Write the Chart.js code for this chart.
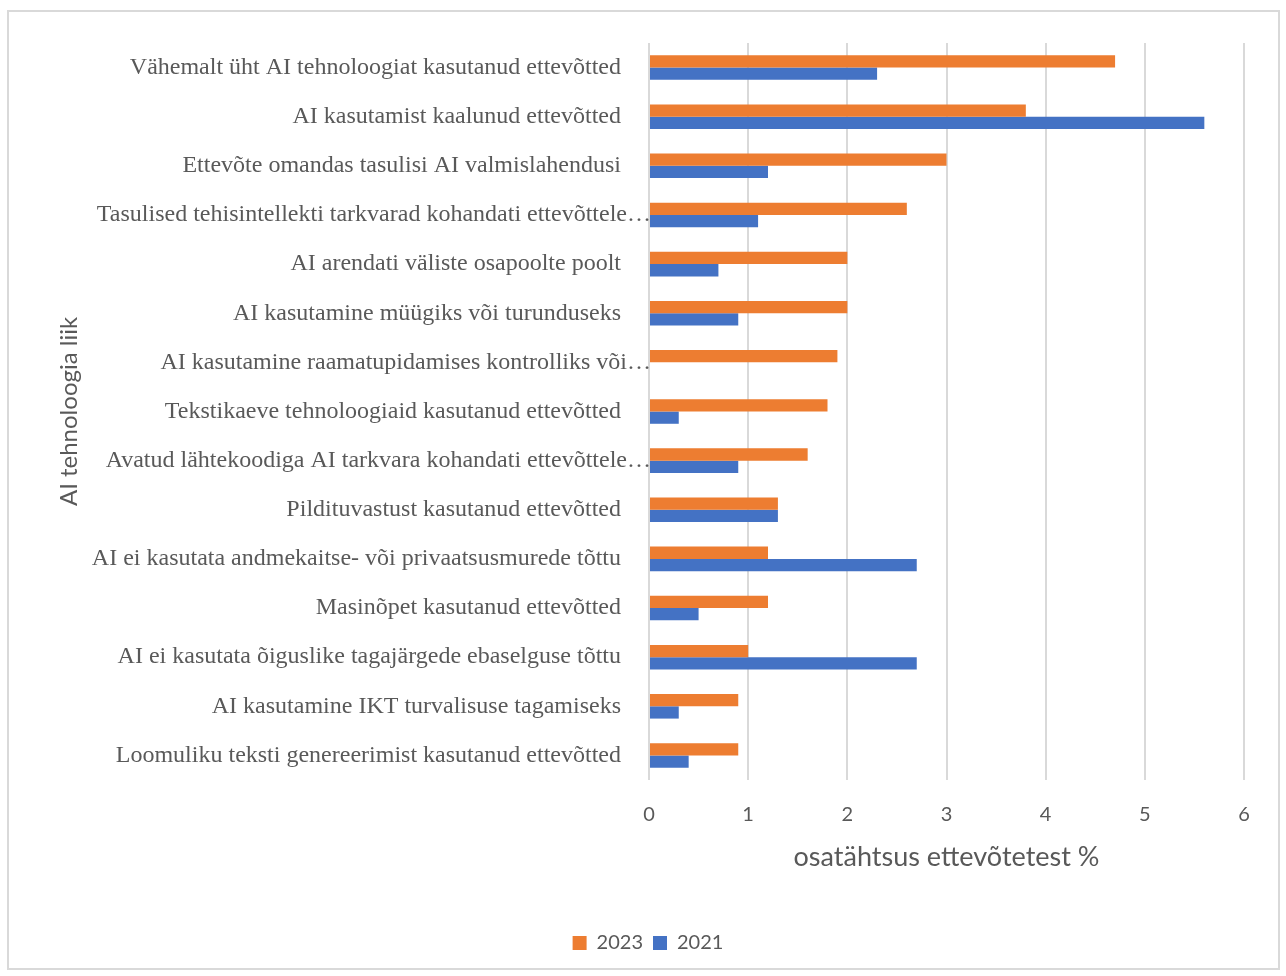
<!DOCTYPE html>
<html lang="et">
<head>
<meta charset="utf-8">
<title>AI tehnoloogiate kasutamine ettevõtetes</title>
<script src="https://cdn.jsdelivr.net/npm/chart.js@4/dist/chart.umd.min.js"></script>
<style>
  html, body { margin: 0; padding: 0; background: #ffffff; }
  #wrap { position: relative; width: 1286px; height: 976px; }
  canvas { display: block; }
</style>
</head>
<body>
<div id="wrap"><canvas id="chart" width="1286" height="976"></canvas></div>
<script>
// Categories (top to bottom) and shares of enterprises, %
const categories = [
  "Vähemalt üht AI tehnoloogiat kasutanud ettevõtted",
  "AI kasutamist kaalunud ettevõtted",
  "Ettevõte omandas tasulisi AI valmislahendusi",
  "Tasulised tehisintellekti tarkvarad kohandati ettevõttele…",
  "AI arendati väliste osapoolte poolt",
  "AI kasutamine müügiks või turunduseks",
  "AI kasutamine raamatupidamises kontrolliks või…",
  "Tekstikaeve tehnoloogiaid kasutanud ettevõtted",
  "Avatud lähtekoodiga AI tarkvara kohandati ettevõttele…",
  "Pildituvastust kasutanud ettevõtted",
  "AI ei kasutata andmekaitse- või privaatsusmurede tõttu",
  "Masinõpet kasutanud ettevõtted",
  "AI ei kasutata õiguslike tagajärgede ebaselguse tõttu",
  "AI kasutamine IKT turvalisuse tagamiseks",
  "Loomuliku teksti genereerimist kasutanud ettevõtted"
];
const values2023 = [4.7, 3.8, 3.0, 2.6, 2.0, 2.0, 1.9, 1.8, 1.6, 1.3, 1.2, 1.2, 1.0, 0.9, 0.9];
const values2021 = [2.3, 5.6, 1.2, 1.1, 0.7, 0.9, null, 0.3, 0.9, 1.3, 2.7, 0.5, 2.7, 0.3, 0.4];
const seriesNames = ["2023", "2021"];
const xTicks = [0, 1, 2, 3, 4, 5, 6];

const TEXT = "#595959";
const GRID = "#d9d9d9";
const SANS = "Lato, 'Open Sans', sans-serif";
const SERIF = "'Liberation Serif', 'Times New Roman', serif";

// Outer frame of the chart
const framePlugin = {
  id: "frame",
  beforeDraw(chart) {
    const ctx = chart.ctx;
    ctx.save();
    ctx.fillStyle = "#ffffff";
    ctx.fillRect(0, 0, chart.width, chart.height);
    ctx.strokeStyle = GRID;
    ctx.lineWidth = 2;
    ctx.strokeRect(8, 11, 1271, 958);
    ctx.restore();
  }
};

new Chart(document.getElementById("chart"), {
  type: "bar",
  data: {
    labels: categories,
    datasets: [
      { label: seriesNames[0], data: values2023, backgroundColor: "#ED7D31" },
      { label: seriesNames[1], data: values2021, backgroundColor: "#4472C4" }
    ]
  },
  options: {
    indexAxis: "y",
    responsive: false,
    animation: false,
    devicePixelRatio: 1,
    categoryPercentage: 0.5,
    barPercentage: 1.0,
    layout: { padding: { top: 43, left: 52, right: 42, bottom: 13 } },
    plugins: {
      legend: {
        position: "bottom",
        labels: {
          font: { family: SANS, size: 20 },
          color: TEXT,
          boxWidth: 14,
          boxHeight: 14,
          padding: 10
        }
      },
      tooltip: { enabled: false }
    },
    scales: {
      x: {
        min: 0,
        max: 6,
        afterBuildTicks(scale) {
          scale.ticks = xTicks.map(v => ({ value: v }));
        },
        afterFit(scale) { scale.height = 143; },
        grid: { color: GRID, lineWidth: 2, drawTicks: false },
        border: { display: false },
        ticks: {
          font: { family: SANS, size: 20 },
          color: TEXT,
          padding: 23
        },
        title: {
          display: true,
          text: "osatähtsus ettevõtetest %",
          font: { family: SANS, size: 27 },
          color: TEXT,
          padding: { top: 0, bottom: 50 }
        }
      },
      y: {
        afterFit(scale) { scale.width = 597; },
        grid: { display: false, drawTicks: false },
        border: { display: false },
        ticks: {
          font: { family: SERIF, size: 24 },
          color: TEXT,
          padding: -2,
          autoSkip: false,
          // full labels keep a gap before the axis; cut labels run up to it
          callback(value, index) {
            const s = categories[index];
            return s.endsWith("…") ? s : s + "     ";
          }
        },
        title: {
          display: true,
          text: "AI tehnoloogia liik",
          font: { family: SANS, size: 24 },
          color: TEXT,
          padding: { top: 3, bottom: 0 }
        }
      }
    }
  },
  plugins: [framePlugin]
});
</script>
</body>
</html>
